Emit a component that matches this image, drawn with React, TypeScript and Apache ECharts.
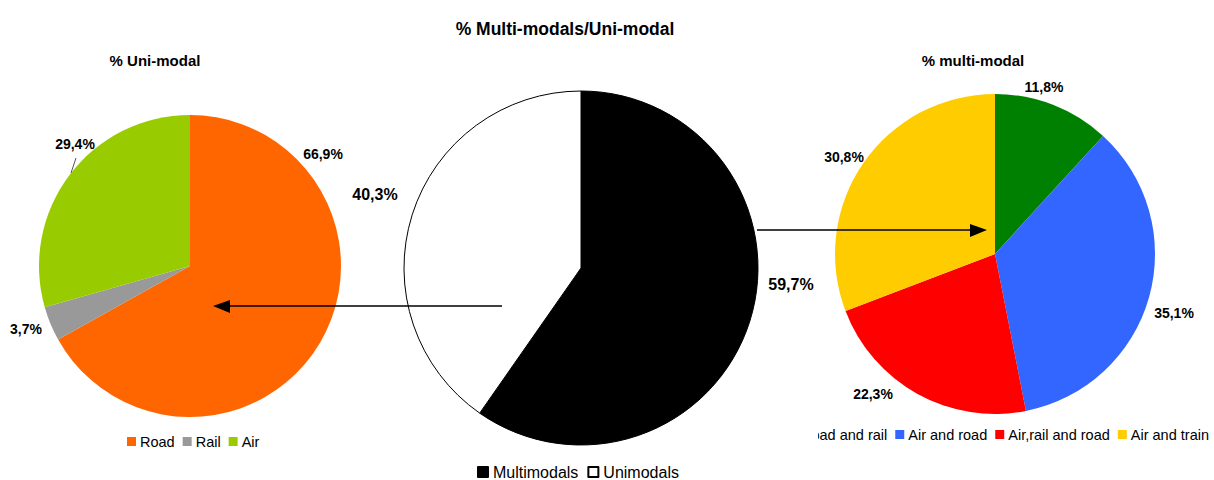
import React, { useEffect, useRef } from "react";
import * as echarts from "echarts";

const uniCategories = ["Road", "Rail", "Air"];
const uniValues = [66.9, 3.7, 29.4];
const totalCategories = ["Multimodals", "Unimodals"];
const totalValues = [59.7, 40.3];
const multiCategories = ["Road and rail", "Air and road", "Air,rail and road", "Air and train"];
const multiValues = [11.8, 35.1, 22.3, 30.8];

const FONT = "'Liberation Sans', Arial, sans-serif";

const uniColors = ["#ff6600", "#999999", "#99cc00"];
const totalColors = ["#000000", "#ffffff"];
const multiColors = ["#008000", "#3366ff", "#ff0000", "#ffcc00"];

// label anchor positions (layout only)
const uniLabelPos = [[323, 154], [26, 329], [75, 144]];
const totalLabelPos = [[791, 284], [375, 194]];
const multiLabelPos = [[1044, 87], [1174, 313], [873, 394], [844, 157]];

const fmt = (p: any) => `${Number(p.value).toFixed(1).replace(".", ",")}%`;

function makeData(names: string[], values: number[], colors: string[], border?: boolean) {
  return names.map((n, i) => ({
    name: n,
    value: values[i],
    itemStyle: border
      ? { color: colors[i], borderColor: "#000", borderWidth: 1 }
      : { color: colors[i] },
  }));
}

export default function App() {
  const ref = useRef<HTMLDivElement>(null);
  useEffect(() => {
    document.body.style.margin = "0";
    const chart = echarts.init(ref.current!, null, { renderer: "svg" });
    const layoutFrom = (pos: number[][]) => (params: any) => ({
      x: pos[params.dataIndex][0],
      y: pos[params.dataIndex][1],
      align: "center",
      verticalAlign: "middle",
    });
    const labelBase = (size: number) => ({
      show: true,
      position: "outside",
      formatter: fmt,
      fontFamily: FONT,
      fontWeight: "bold",
      fontSize: size,
      color: "#000",
    });
    chart.setOption({
      animation: false,
      backgroundColor: "#fff",
      textStyle: { fontFamily: FONT },
      title: [
        {
          text: "% Multi-modals/Uni-modal",
          left: 560,
          top: 15,
          textAlign: "center",
          textStyle: { fontFamily: FONT, fontWeight: "bold", fontSize: 17.5, color: "#000" },
        },
        {
          text: "% Uni-modal",
          left: 150,
          top: 48,
          textAlign: "center",
          textStyle: { fontFamily: FONT, fontWeight: "bold", fontSize: 15, color: "#000" },
        },
        {
          text: "% multi-modal",
          left: 968,
          top: 48,
          textAlign: "center",
          textStyle: { fontFamily: FONT, fontWeight: "bold", fontSize: 15, color: "#000" },
        },
      ],
      legend: [
        {
          data: uniCategories,
          left: 127,
          top: 434,
          padding: 0,
          icon: "rect",
          itemWidth: 9,
          itemHeight: 9,
          itemGap: 8,
          textStyle: { fontFamily: FONT, fontSize: 14.5, color: "#000", padding: [0, 0, 0, -1] },
          selectedMode: false,
        },
        {
          data: totalCategories,
          left: 477,
          top: 464,
          padding: 0,
          icon: "rect",
          itemWidth: 10,
          itemHeight: 10,
          itemGap: 9,
          textStyle: { fontFamily: FONT, fontSize: 16, color: "#000" },
          selectedMode: false,
        },
        {
          data: multiCategories,
          left: 788,
          top: 427,
          padding: 0,
          width: 440,
          icon: "rect",
          itemWidth: 9,
          itemHeight: 9,
          itemGap: 8,
          textStyle: { fontFamily: FONT, fontSize: 14.5, color: "#000", padding: [0, 0, 0, -1] },
          selectedMode: false,
        },
      ],
      series: [
        {
          type: "pie",
          center: [190, 266],
          radius: 151,
          startAngle: 90,
          clockwise: true,
          avoidLabelOverlap: false,
          label: labelBase(14),
          labelLine: { show: false },
          labelLayout: layoutFrom(uniLabelPos),
          emphasis: { disabled: true },
          data: makeData(uniCategories, uniValues, uniColors),
        },
        {
          type: "pie",
          center: [581, 268],
          radius: 177,
          startAngle: 90,
          clockwise: true,
          avoidLabelOverlap: false,
          label: labelBase(16),
          labelLine: { show: false },
          labelLayout: layoutFrom(totalLabelPos),
          emphasis: { disabled: true },
          data: makeData(totalCategories, totalValues, totalColors, true),
        },
        {
          type: "pie",
          center: [995, 254],
          radius: 160,
          startAngle: 90,
          clockwise: true,
          avoidLabelOverlap: false,
          label: labelBase(14),
          labelLine: { show: false },
          labelLayout: layoutFrom(multiLabelPos),
          emphasis: { disabled: true },
          data: makeData(multiCategories, multiValues, multiColors),
        },
      ],
      graphic: [
        {
          type: "rect",
          z: 100,
          shape: { x: 770, y: 418, width: 48, height: 28 },
          style: { fill: "#fff" },
        },
        {
          type: "line",
          z: 100,
          shape: { x1: 502, y1: 306, x2: 228, y2: 306 },
          style: { stroke: "#000", lineWidth: 1.5 },
        },
        {
          type: "polygon",
          z: 100,
          shape: { points: [[213, 306], [230, 300], [230, 313]] },
          style: { fill: "#000" },
        },
        {
          type: "line",
          z: 100,
          shape: { x1: 757, y1: 230, x2: 972, y2: 230 },
          style: { stroke: "#000", lineWidth: 1.5 },
        },
        {
          type: "polygon",
          z: 100,
          shape: { points: [[987, 230], [970, 224], [970, 237]] },
          style: { fill: "#000" },
        },
        {
          type: "line",
          z: 100,
          shape: { x1: 76, y1: 158, x2: 71, y2: 173 },
          style: { stroke: "#555", lineWidth: 1 },
        },
      ],
    });
    return () => chart.dispose();
  }, []);
  return <div ref={ref} style={{ width: 1214, height: 480 }} />;
}
